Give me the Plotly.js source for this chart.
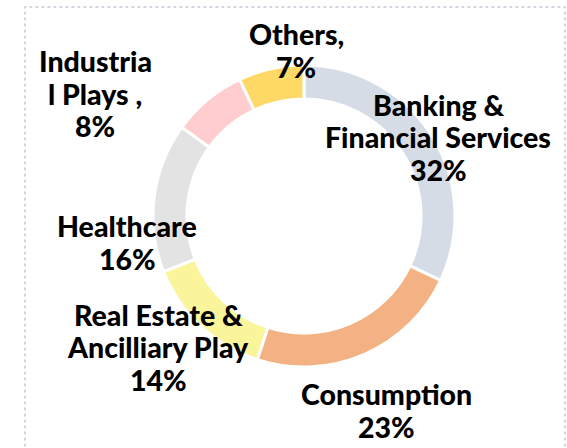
<!DOCTYPE html>
<html>
<head>
<meta charset="utf-8">
<script src="https://cdn.plot.ly/plotly-3.0.1.min.js"></script>
<style>html,body{margin:0;padding:0;background:#fff;}#chart{width:567px;height:448px;}</style>
</head>
<body>
<div id="chart"></div>
<script>
const categories = ["Banking & Financial Services", "Consumption", "Real Estate & Ancilliary Play", "Healthcare", "Industrial Plays", "Others"];
const values = [32, 23, 14, 16, 8, 7];
const labelLines = [
  ["Banking &", "Financial Services", "32%"],
  ["Consumption", "23%"],
  ["Real Estate &", "Ancilliary Play", "14%"],
  ["Healthcare", "16%"],
  ["Industria", "l Plays ,", "8%"],
  ["Others,", "7%"]
];
const colors = ["#d6dce5", "#f4b183", "#faf59b", "#e3e3e3", "#ffccd0", "#ffd966"];
// label anchors in pixels: center x, cap-center y of first line
const labelPos = [[438, 105], [386, 394], [158, 314.5], [127, 226], [95, 61], [296, 34]];
const lineStep = 32.5;

const W = 567, H = 448;
const cx = 304, cy = 216, R = 151;
const fontSize = 28.5;

const trace = {
  type: "pie",
  labels: categories,
  values: values,
  sort: false,
  direction: "clockwise",
  rotation: 0,
  hole: 0.775,
  textinfo: "none",
  marker: {colors: colors, line: {color: "#ffffff", width: 3}},
  domain: {x: [(cx - R) / W, (cx + R) / W], y: [1 - (cy + R) / H, 1 - (cy - R) / H]},
  showlegend: false,
  hoverinfo: "label+percent"
};

const annotations = [];
labelLines.forEach((lines, i) => {
  lines.forEach((t, j) => {
    const py = labelPos[i][1] + j * lineStep;
    annotations.push({
      text: t,
      x: labelPos[i][0] / W,
      y: 1 - py / H,
      xref: "paper", yref: "paper",
      xanchor: "center", yanchor: "middle",
      showarrow: false,
      align: "center",
      font: {family: "Lato", size: fontSize, color: "#000000", weight: 900}
    });
  });
});

const layout = {
  width: W, height: H,
  margin: {l: 0, r: 0, t: 0, b: 0},
  paper_bgcolor: "#ffffff",
  annotations: annotations,
  shapes: [{
    type: "rect", xref: "paper", yref: "paper",
    x0: 25 / W, x1: 565 / W, y0: -0.05, y1: 1 - 7 / H,
    line: {color: "#c5ccd6", width: 1.5, dash: "dot"}
  }]
};

Plotly.newPlot("chart", [trace], layout, {displayModeBar: false, staticPlot: true});
</script>
</body>
</html>
